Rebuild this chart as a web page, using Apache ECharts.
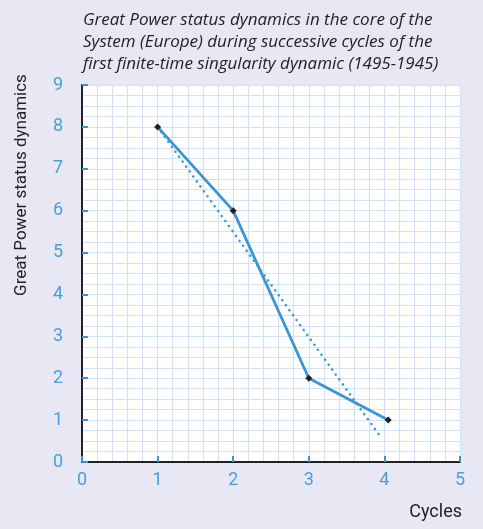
<!DOCTYPE html>
<html>
<head>
<meta charset="utf-8">
<script src="https://cdn.jsdelivr.net/npm/echarts@6/dist/echarts.min.js"></script>
<style>
  html, body { margin: 0; padding: 0; background: #e8e8f4; }
  #chart { width: 483px; height: 529px; }
</style>
</head>
<body>
<div id="chart"></div>
<script>
// Great Power status per cycle
const cycles = [1, 2, 3, 4.05];
const status = [8, 6, 2, 1];
// Linear trend drawn as a dotted line
const trendCycles = [1, 3.95];
const trendStatus = [8, 0.6];

const xTicks = [0, 1, 2, 3, 4, 5];
const yTicks = [0, 1, 2, 3, 4, 5, 6, 7, 8, 9];

const blue = '#3a95d3';
const labelBlue = '#4a9fdb';
const gridColor = '#d3e2f3';
const axisFont = 'Roboto, "DejaVu Sans", sans-serif';

const chart = echarts.init(document.getElementById('chart'));
chart.setOption({
  backgroundColor: '#e8e8f4',
  animation: false,
  title: {
    text: 'Great Power status dynamics in the core of the\nSystem (Europe) during successive cycles of the\nfirst finite-time singularity dynamic (1495-1945)',
    left: 78,
    top: 4,
    textStyle: {
      fontFamily: '"Open Sans", "Noto Sans", sans-serif',
      fontStyle: 'italic',
      fontWeight: 'normal',
      fontSize: 17,
      lineHeight: 22,
      color: '#222'
    }
  },
  grid: {
    left: 82, right: 23, top: 85, bottom: 67,
    show: true, backgroundColor: '#ffffff', borderWidth: 0
  },
  xAxis: {
    type: 'value',
    min: xTicks[0], max: xTicks[xTicks.length - 1], interval: 1,
    axisLine: { show: true, onZero: false, lineStyle: { color: '#222', width: 2 } },
    axisTick: { show: true, inside: true, length: 6, lineStyle: { color: blue, width: 2 } },
    axisLabel: { color: labelBlue, fontSize: 18, fontFamily: axisFont, margin: 9 },
    splitLine: { show: true, lineStyle: { color: gridColor, width: 1.2 } },
    minorTick: { show: false, splitNumber: 5 },
    minorSplitLine: { show: true, lineStyle: { color: gridColor, width: 1.2 } }
  },
  yAxis: {
    type: 'value',
    min: yTicks[0], max: yTicks[yTicks.length - 1], interval: 1,
    axisLine: { show: true, onZero: false, lineStyle: { color: '#222', width: 2 } },
    axisTick: { show: true, inside: true, length: 6, lineStyle: { color: blue, width: 2 } },
    axisLabel: { color: labelBlue, fontSize: 18, fontFamily: axisFont, margin: 19 },
    splitLine: { show: true, lineStyle: { color: gridColor, width: 1.2 } },
    minorTick: { show: false, splitNumber: 4 },
    minorSplitLine: { show: true, lineStyle: { color: gridColor, width: 1.2 } }
  },
  graphic: [
    {
      type: 'text', x: 22, y: 185, rotation: Math.PI / 2,
      style: {
        text: 'Great Power status dynamics',
        fill: '#222', fontSize: 17, fontFamily: axisFont,
        align: 'center', verticalAlign: 'middle'
      }
    },
    {
      type: 'text', x: 462, y: 512,
      style: {
        text: 'Cycles', fill: '#222', fontSize: 18, fontFamily: axisFont,
        align: 'right', verticalAlign: 'middle'
      }
    }
  ],
  series: [
    {
      type: 'line',
      data: trendCycles.map((x, i) => [x, trendStatus[i]]),
      symbol: 'none',
      lineStyle: { color: blue, width: 2.5, type: [0.1, 6], cap: 'round' },
      z: 2
    },
    {
      type: 'line',
      data: cycles.map((x, i) => [x, status[i]]),
      symbol: 'diamond',
      symbolSize: 7,
      itemStyle: { color: '#222' },
      lineStyle: { color: blue, width: 2.8 },
      z: 3
    }
  ]
});
</script>
</body>
</html>
